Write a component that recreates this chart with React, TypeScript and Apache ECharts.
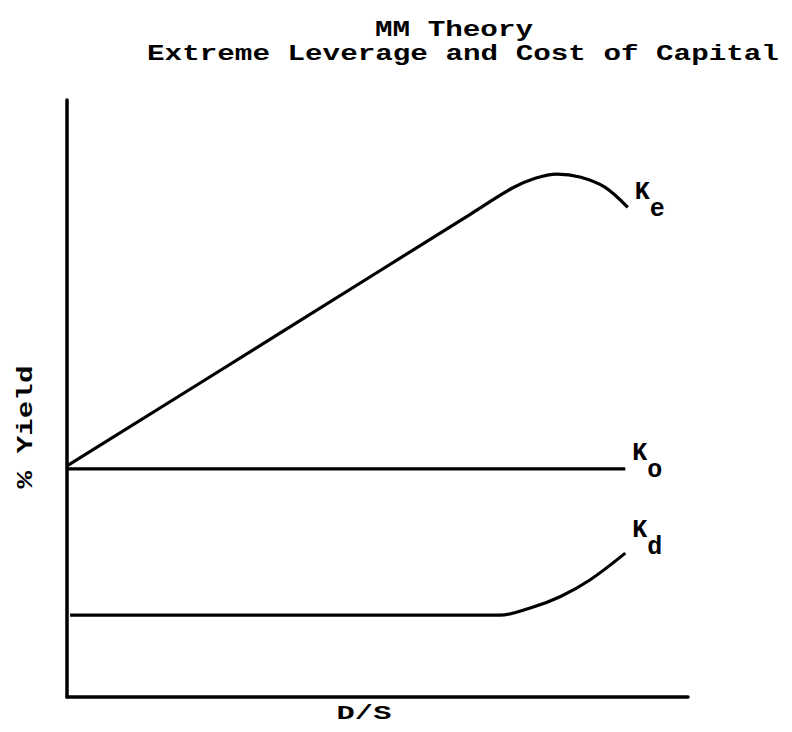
import React, { useEffect, useRef } from "react";
import * as echarts from "echarts";

const keData: [number, number][] = [
  [0, 38.7], [35, 61.4], [65, 80.9], [71.8, 85.3], [75.4, 86.9], [78.9, 87.6], [82.6, 87.1], [86.6, 85.4], [90.3, 82.0],
];
const koData: [number, number][] = [
  [0, 38.2], [89.9, 38.2],
];
const kdData: [number, number][] = [
  [0.5, 13.7], [40, 13.7], [69.7, 13.7], [74.6, 14.9], [79.4, 16.8], [84.2, 19.6], [89.9, 24.1],
];
const seriesNames = ["K", "K", "K"];
const subscripts = ["e", "o", "d"];
const titleLines = ["MM Theory", "Extreme Leverage and Cost of Capital"];
const xAxisTitle = "D/S";
const yAxisTitle = "% Yield";

const FONT = "'Liberation Mono', 'DejaVu Sans Mono', monospace";

export default function App() {
  const ref = useRef<HTMLDivElement>(null);
  useEffect(() => {
    if (!ref.current) return;
    const chart = echarts.init(ref.current, null, { renderer: "svg" });
    const mkLabel = (i: number, dy: number) => ({
      show: true,
      formatter: `{k|${seriesNames[i]}}{s|${subscripts[i]}}`,
      distance: 7,
      offset: [0, dy],
      rich: {
        k: { fontFamily: FONT, fontSize: 25, fontWeight: "bold", color: "#000", lineHeight: 42, verticalAlign: "top" as const },
        s: { fontFamily: FONT, fontSize: 25, fontWeight: "bold", color: "#000", lineHeight: 42, verticalAlign: "bottom" as const },
      },
    });
    const lineStyle = { color: "#000", width: 3.2 };
    const txt = (text: string, x: number, y: number, size: number, sx: number, rot = 0) => ({
      type: "text",
      x,
      y,
      rotation: rot,
      scaleX: sx,
      scaleY: 1,
      style: {
        text,
        fontFamily: FONT,
        fontSize: size,
        fontWeight: "bold",
        fill: "#000",
        align: "center",
        verticalAlign: "middle",
      },
    });
    chart.setOption({
      animation: false,
      backgroundColor: "#fff",
      grid: { left: 67, right: 104, top: 100, bottom: 35, outerBoundsMode: "none", containLabel: false },
      xAxis: {
        type: "value",
        min: 0,
        max: 100,
        axisLine: { show: true, lineStyle: { color: "#000", width: 3.5 } },
        axisTick: { show: false },
        axisLabel: { show: false },
        splitLine: { show: false },
      },
      yAxis: {
        type: "value",
        min: 0,
        max: 100,
        axisLine: { show: true, lineStyle: { color: "#000", width: 3.5 } },
        axisTick: { show: false },
        axisLabel: { show: false },
        splitLine: { show: false },
      },
      graphic: [
        txt(titleLines[0], 454, 30, 22, 1.33),
        txt(titleLines[1], 463, 54, 22, 1.33),
        txt(xAxisTitle, 364, 713, 21, 1.45),
        txt(yAxisTitle, 26, 427, 22, 1.33, Math.PI / 2),
      ],
      series: [
        { type: "line", data: keData, smooth: 0.35, symbol: "none", lineStyle, endLabel: mkLabel(0, -6) },
        { type: "line", data: koData, symbol: "none", lineStyle, endLabel: mkLabel(1, -7) },
        { type: "line", data: kdData, smooth: 0.35, symbol: "none", lineStyle, endLabel: mkLabel(2, -14) },
      ],
    });
    return () => chart.dispose();
  }, []);
  return <div ref={ref} style={{ width: 792, height: 732, margin: -8 }} />;
}
